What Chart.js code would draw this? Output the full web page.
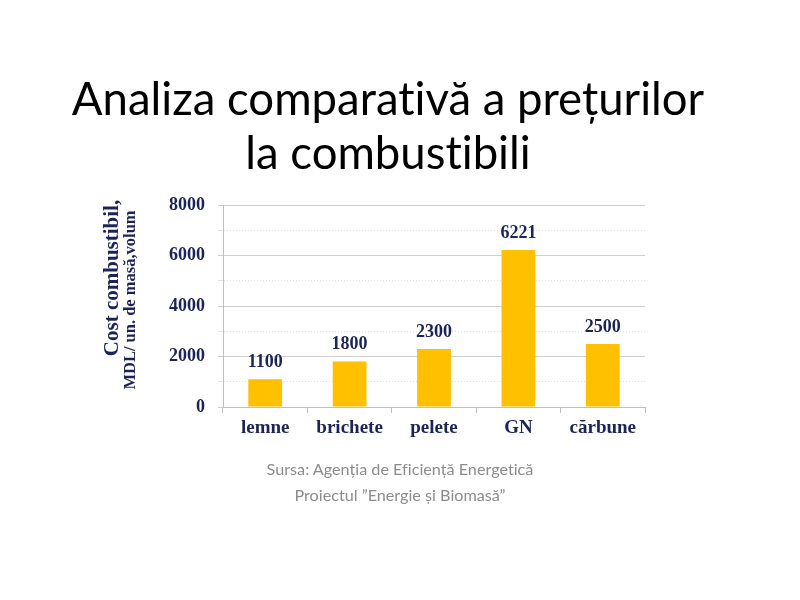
<!DOCTYPE html>
<html>
<head>
<meta charset="utf-8">
<script src="https://cdn.jsdelivr.net/npm/chart.js@4"></script>
<style>
  html, body { margin: 0; padding: 0; background: #fff; }
  #wrap { position: relative; width: 800px; height: 600px; }
  #myChart { position: absolute; left: 0; top: 0; }
  .title { position: absolute; left: 0; width: 776px; text-align: center; font-family: Lato, sans-serif; color: #000; font-size: 45.5px; line-height: 54px; font-variant-ligatures: none; font-feature-settings: "liga" 0; }
  .src { position: absolute; left: 0; width: 800px; text-align: center; font-family: Lato, sans-serif; color: #8c8c8c; font-size: 16.2px; line-height: 26px; font-variant-ligatures: none; font-feature-settings: "liga" 0; }
</style>
</head>
<body>
<div id="wrap">
  <canvas id="myChart" width="800" height="600"></canvas>
  <div class="title" style="top:71px">Analiza comparativă a prețurilor<br>la combustibili</div>
  <div class="src" style="top:456px">Sursa: Agenția de Eficiență Energetică<br>Proiectul ”Energie și Biomasă”</div>
</div>
<script>
const labels = ['lemne', 'brichete', 'pelete', 'GN', 'cărbune'];
const costs = [1100, 1800, 2300, 6221, 2500];
const yMax = 8000;
const yStep = 1000;
const yTitle = ['Cost combustibil,', 'MDL/ un. de masă,volum'];

const navy = '#1b2455';
const serif = '"Liberation Serif", "Times New Roman", serif';

// value labels above bars
const valueLabels = {
  id: 'valueLabels',
  afterDatasetsDraw(chart) {
    const ctx = chart.ctx;
    const meta = chart.getDatasetMeta(0);
    ctx.save();
    ctx.font = 'bold 18px ' + serif;
    ctx.fillStyle = navy;
    ctx.textAlign = 'center';
    ctx.textBaseline = 'bottom';
    meta.data.forEach((bar, i) => {
      ctx.fillText(String(costs[i]), bar.x, bar.y - 8);
    });
    ctx.restore();
  }
};

// two-line rotated y title with different sizes
const yAxisTitle = {
  id: 'yAxisTitle',
  afterDraw(chart) {
    const ctx = chart.ctx;
    ctx.save();
    ctx.fillStyle = navy;
    ctx.textAlign = 'center';
    ctx.textBaseline = 'middle';
    ctx.save();
    ctx.translate(113, 278);
    ctx.rotate(-Math.PI / 2);
    ctx.font = 'bold 21px ' + serif;
    ctx.fillText(yTitle[0], 0, 0);
    ctx.restore();
    ctx.translate(131, 300);
    ctx.rotate(-Math.PI / 2);
    ctx.font = 'bold 16.5px ' + serif;
    ctx.fillText(yTitle[1], 0, 0);
    ctx.restore();
  }
};

new Chart(document.getElementById('myChart'), {
  type: 'bar',
  data: {
    labels: labels,
    datasets: [{
      data: costs,
      backgroundColor: '#FFC000',
      categoryPercentage: 1,
      barPercentage: 0.4
    }]
  },
  options: {
    responsive: false,
    animation: false,
    layout: { padding: { top: 205, right: 155, bottom: 0, left: 0 } },
    plugins: { legend: { display: false }, tooltip: { enabled: false } },
    scales: {
      x: {
        afterFit(scale) { scale.height = 193; },
        grid: { drawOnChartArea: false, drawTicks: true, tickLength: 6, color: '#bfbfbf', offset: true },
        border: { color: '#bfbfbf' },
        ticks: { color: navy, font: { family: serif, size: 19, weight: 'bold' }, padding: 4 }
      },
      y: {
        min: 0,
        max: yMax,
        afterFit(scale) { scale.width = 223; },
        grid: {
          color: (c) => (c.tick && c.tick.value % 2000 !== 0) ? '#e2e2e2' : '#d0d0d0',
          tickLength: 5
        },
        border: {
          color: '#bfbfbf',
          dash: (c) => (c.tick && c.tick.value % 2000 !== 0) ? [1, 2] : []
        },
        ticks: {
          stepSize: yStep,
          color: navy,
          padding: 13,
          font: { family: serif, size: 18, weight: 'bold' },
          callback: (v) => v % 2000 === 0 ? v : ''
        }
      }
    }
  },
  plugins: [valueLabels, yAxisTitle]
});
</script>
</body>
</html>
